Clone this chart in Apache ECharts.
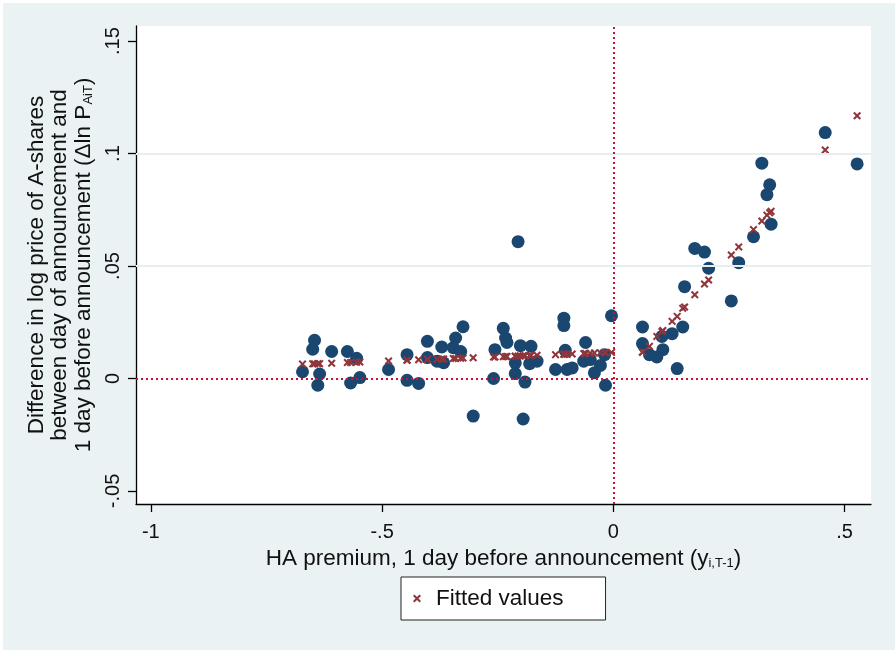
<!DOCTYPE html>
<html>
<head>
<meta charset="utf-8">
<script src="https://cdn.jsdelivr.net/npm/echarts@6/dist/echarts.min.js"></script>
<style>
html,body{margin:0;padding:0;background:#ffffff;}
#chart{position:absolute;left:3px;top:3px;width:892px;height:647px;}
</style>
</head>
<body>
<div id="chart"></div>
<script>
// HA premium 1 day before announcement (x)
const xVals = [-0.672,-0.650,-0.646,-0.639,-0.635,-0.609,-0.575,-0.568,-0.555,-0.548,
  -0.486,-0.446,-0.446,-0.421,-0.402,-0.402,-0.381,-0.371,-0.367,-0.346,
  -0.341,-0.330,-0.325,-0.303,-0.259,-0.256,-0.238,-0.233,-0.230,-0.212,
  -0.212,-0.206,-0.201,-0.195,-0.191,-0.181,-0.178,-0.165,-0.125,-0.107,
  -0.107,-0.104,-0.100,-0.089,-0.064,-0.060,-0.050,-0.041,-0.028,-0.019,
  -0.017,-0.004,0.063,0.063,0.078,0.094,0.105,0.107,0.127,0.138,
  0.150,0.154,0.176,0.197,0.206,0.255,0.271,0.303,0.321,0.332,
  0.338,0.341,0.458,0.527];
// Difference in log price of A-shares (observed)
const yVals = [0.003,0.013,0.017,-0.003,0.002,0.012,0.012,-0.002,0.009,0.0004,
  0.004,0.0106,-0.0008,-0.0022,0.0165,0.0093,0.0077,0.014,0.007,0.0137,
  0.018,0.012,0.023,-0.0167,0.0,0.0128,0.0223,0.018,0.016,0.0069,
  0.0022,0.0608,0.0146,-0.018,-0.0016,0.0066,0.0143,0.0077,0.004,0.0268,
  0.0235,0.0125,0.004,0.0047,0.0077,0.016,0.0084,0.0025,0.0058,0.0106,
  -0.003,0.0279,0.0229,0.0155,0.0106,0.0096,0.0187,0.0128,0.0199,0.0044,
  0.0229,0.0408,0.0578,0.0562,0.049,0.0345,0.0515,0.063,0.0957,0.0817,
  0.0861,0.0686,0.1093,0.0954];
// Fitted values
const fitVals = [0.0064,0.0065,0.0065,0.0066,0.0066,0.0068,0.0071,0.0071,0.0072,0.0073,
  0.0078,0.0081,0.0081,0.0083,0.0085,0.0085,0.0086,0.0087,0.0087,0.0089,
  0.0089,0.0090,0.0091,0.0092,0.0096,0.0096,0.0097,0.0098,0.0098,0.0099,
  0.0099,0.0100,0.0100,0.0101,0.0101,0.0102,0.0102,0.0103,0.0106,0.0108,
  0.0108,0.0108,0.0108,0.0109,0.0111,0.0111,0.0112,0.0113,0.0114,0.0115,
  0.0115,0.0116,0.0117,0.0117,0.0143,0.0187,0.0209,0.0213,0.0254,0.0276,
  0.0312,0.0318,0.0372,0.0420,0.0438,0.0549,0.0585,0.0662,0.0700,0.0726,
  0.0737,0.0743,0.1016,0.1168];
const xTicks = [-1, -0.5, 0, 0.5];
const xTickLabels = ['-1', '-.5', '0', '.5'];
const yTicks = [-0.05, 0, 0.05, 0.1, 0.15];
const yTickLabels = ['-.05', '0', '.05', '.1', '.15'];
const yGridLines = [0.05, 0.1];

const FONT = '"Liberation Sans", Arial, sans-serif';
const xPath = 'path://M0,1.8 L1.8,0 L5,3.2 L8.2,0 L10,1.8 L6.8,5 L10,8.2 L8.2,10 L5,6.8 L1.8,10 L0,8.2 L3.2,5 Z';

const obsData = xVals.map((x, i) => [x, yVals[i]]);
const fitData = xVals.map((x, i) => [x, fitVals[i]]);

const chart = echarts.init(document.getElementById('chart'), null, {renderer: 'canvas'});
chart.setOption({
  backgroundColor: '#eaf2f3',
  animation: false,
  textStyle: {fontFamily: FONT},
  grid: {left: 133, right: 24, top: 23, bottom: 146, show: true, backgroundColor: '#ffffff', borderWidth: 0},
  legend: {
    data: ['Fitted values'],
    left: 398, top: 574,
    backgroundColor: '#ffffff', borderColor: '#222', borderWidth: 1,
    padding: [10, 42, 10, 12],
    icon: xPath, itemWidth: 8, itemHeight: 8,
    textStyle: {fontSize: 22.5, color: '#111', fontFamily: FONT, padding: [0, 0, 0, 10]}
  },
  xAxis: {
    type: 'value', min: -1.032, max: 0.557,
    name: 'HA premium, 1 day before announcement (y{sub|i,T-1})',
    nameLocation: 'middle', nameGap: 31,
    nameTextStyle: {fontSize: 22.5, color: '#111', fontFamily: FONT,
      rich: {sub: {fontSize: 13, color: '#111', fontFamily: FONT, verticalAlign: 'bottom', padding: [9, 0, 0, 0]}}},
    axisLine: {show: true, onZero: false, lineStyle: {color: '#000', width: 1.3}},
    axisTick: {show: true, length: 8, customValues: xTicks, lineStyle: {color: '#000', width: 1.3}},
    axisLabel: {show: true, customValues: xTicks, margin: 18, fontSize: 20, color: '#111', fontFamily: FONT,
      formatter: v => { const i = xTicks.findIndex(t => Math.abs(t - v) < 1e-9); return i >= 0 ? xTickLabels[i] : ''; }},
    splitLine: {show: false}
  },
  yAxis: {
    type: 'value', min: -0.0558, max: 0.1567,
    name: 'Difference in log price of A-shares\nbetween day of announcement and\n1 day before announcement (Δln P{sub|AiT})',
    nameLocation: 'middle', nameGap: 38, nameRotate: 90,
    nameTextStyle: {fontSize: 22.5, lineHeight: 23.5, color: '#111', fontFamily: FONT, align: 'center',
      rich: {sub: {fontSize: 13, color: '#111', fontFamily: FONT, verticalAlign: 'bottom', padding: [9, 0, 0, 0]}}},
    axisLine: {show: true, onZero: false, lineStyle: {color: '#000', width: 1.3}},
    axisTick: {show: true, length: 8, customValues: yTicks, lineStyle: {color: '#000', width: 1.3}},
    axisLabel: {show: true, customValues: yTicks, rotate: 90, margin: 13, fontSize: 20, color: '#111', fontFamily: FONT,
      formatter: v => { const i = yTicks.findIndex(t => Math.abs(t - v) < 1e-9); return i >= 0 ? yTickLabels[i] : ''; }},
    splitLine: {show: false}
  },
  series: [
    {
      name: 'refs', type: 'line', data: [], z: 1, silent: true,
      markLine: {
        silent: true, symbol: 'none', animation: false,
        label: {show: false},
        data: [
          ...yGridLines.map(v => ({yAxis: v, lineStyle: {color: '#e6eef0', width: 2, type: 'solid'}})),
          {yAxis: 0, lineStyle: {color: '#cc1139', width: 2, type: [2, 3]}},
          {xAxis: 0, lineStyle: {color: '#cc1139', width: 2, type: [2, 3]}}
        ]
      }
    },
    {
      name: 'Observed', type: 'scatter', data: obsData, z: 3,
      symbol: 'circle', symbolSize: 13,
      itemStyle: {color: '#1a476f', opacity: 1}
    },
    {
      name: 'Fitted values', type: 'scatter', data: fitData, z: 4,
      symbol: xPath, symbolSize: 8,
      itemStyle: {color: '#90353b', opacity: 1}
    }
  ]
});
</script>
</body>
</html>
